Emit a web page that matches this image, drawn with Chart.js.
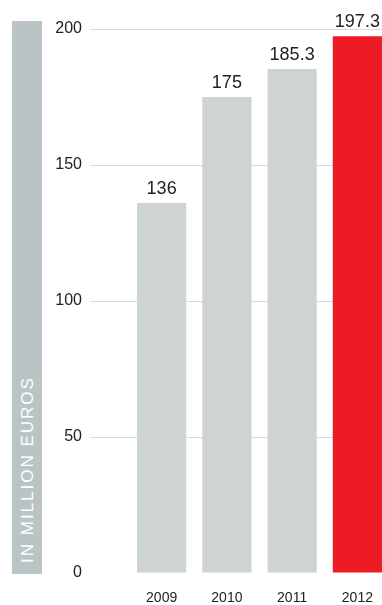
<!DOCTYPE html>
<html>
<head>
<meta charset="utf-8">
<script src="https://cdn.jsdelivr.net/npm/chart.js@4.4.0/dist/chart.umd.min.js"></script>
<style>
  html, body { margin: 0; padding: 0; overflow: hidden; background: #fff; width: 382px; height: 605px; }
  #clip { position: absolute; left: 0; top: 0; width: 382px; height: 605px; overflow: hidden; }
  #wrap { position: absolute; left: 0; top: 0; width: 390px; height: 605px; }
  #band {
    position: absolute; left: 12px; top: 21px; width: 30px; height: 553px;
    background: #bac4c4;
  }
  #band span {
    position: absolute; left: 15px; top: 542px;
    transform-origin: 0 0;
    transform: rotate(-90deg) translate(0, -50%);
    white-space: nowrap; color: #fff;
    font-family: "Liberation Sans", Arial, sans-serif; font-size: 17px;
    letter-spacing: 2px; line-height: 1;
  }
</style>
</head>
<body>
<div id="clip">
  <div id="band"><span>IN MILLION EUROS</span></div>
  <div id="wrap"><canvas id="chart-bars"></canvas></div>
</div>
<script>
var years = ["2009", "2010", "2011", "2012"];
var revenue = [136, 175, 185.3, 197.3];
var barColors = ["#cdd4d3", "#cdd4d3", "#cdd4d3", "#ed1c24"];
var yTicks = [0, 50, 100, 150, 200];

// value labels above each bar
var valueLabels = {
    id: 'valueLabels',
    afterDatasetsDraw: function (chart) {
        var ctx = chart.ctx;
        var meta = chart.getDatasetMeta(0);
        ctx.save();
        ctx.font = '18px "Liberation Sans", Arial, sans-serif';
        ctx.fillStyle = '#222';
        ctx.textAlign = 'center';
        ctx.textBaseline = 'alphabetic';
        meta.data.forEach(function (bar, i) {
            ctx.fillText(String(revenue[i]), bar.x, bar.y - 9);
        });
        ctx.restore();
    }
};

var ctx = document.getElementById("chart-bars").getContext("2d");

new Chart(ctx, {
    type: "bar",
    data: {
        labels: years,
        datasets: [{
            data: revenue,
            backgroundColor: barColors,
            borderWidth: 0,
            categoryPercentage: 1,
            barPercentage: 0.754
        }]
    },
    options: {
        responsive: true,
        maintainAspectRatio: false,
        animation: false,
        layout: { padding: { top: 29, left: 0, right: 0, bottom: 0 } },
        plugins: {
            legend: { display: false },
            tooltip: { enabled: false }
        },
        scales: {
            y: {
                min: 0,
                max: 200,
                border: { display: false },
                afterFit: function (scale) { scale.width = 129; },
                afterBuildTicks: function (scale) {
                    scale.ticks = yTicks.map(function (v) { return { value: v }; });
                },
                grid: {
                    drawTicks: true,
                    tickLength: 39,
                    color: function (c) {
                        return c.tick && c.tick.value === 0 ? 'rgba(0,0,0,0)' : '#d6dada';
                    },
                    lineWidth: 1
                },
                ticks: {
                    padding: 8,
                    color: '#222',
                    font: { size: 16, family: '"Liberation Sans", Arial, sans-serif' }
                }
            },
            x: {
                border: { display: false },
                afterFit: function (scale) { scale.height = 32; },
                grid: { display: false, drawTicks: false },
                ticks: {
                    padding: 17,
                    color: '#222',
                    maxRotation: 0,
                    font: { size: 14, family: '"Liberation Sans", Arial, sans-serif' }
                }
            }
        }
    },
    plugins: [valueLabels]
});
</script>
</body>
</html>
